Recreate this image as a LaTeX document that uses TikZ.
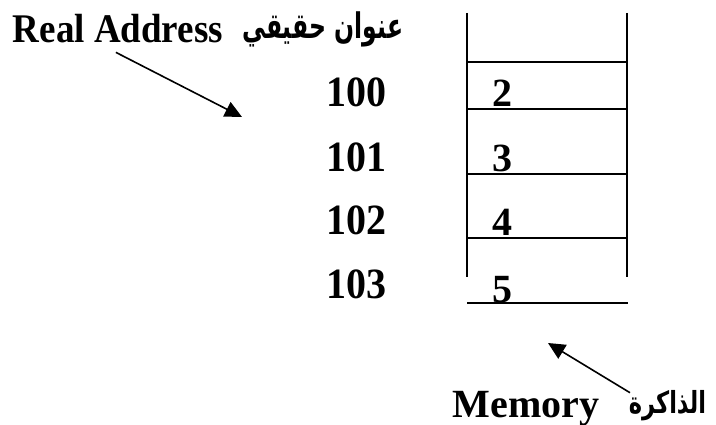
\documentclass[tikz,border=0pt]{standalone}
\usepackage{fontspec}
\setmainfont{Liberation Serif}
\newfontfamily\arabicfont[Script=Arabic]{DejaVu Sans}
\TeXXeTstate=1
\usetikzlibrary{arrows.meta}
\tikzset{
  al/.style={inner sep=0pt,anchor=base,font=\fontsize{40}{40}\selectfont\bfseries},
  tl/.style={inner sep=0pt,font=\fontsize{37}{37}\selectfont\bfseries},
  arl/.style={inner sep=0pt,yscale=1.5,font=\fontsize{23.5}{24}\selectfont\arabicfont\bfseries},
  ptr/.style={line width=1.6pt,-{Triangle[length=17pt,width=16pt]}}
}

\begin{document}
\begin{tikzpicture}[x=1pt,y=-1pt,line width=1.8pt]
    \useasboundingbox (0,0) rectangle (716,425);
    % memory column
    \draw (467,13) -- (467,277) (627,13) -- (627,277);
    \draw (467,62) -- (627,62) (467,109) -- (627,109) (467,174) -- (627,174) (467,238) -- (627,238);
    \draw (467,303) -- (628,303);
    % addresses and contents
    \node[al,yscale=1.08] (a100) at (356,107) {100};
    \node[al,yscale=1.08] (a101) at (356,172) {101};
    \node[al,yscale=1.08] (a102) at (356,235) {102};
    \node[al,yscale=1.08] (a103) at (356,299) {103};
    \node[al] (v2) at (502,107) {2};
    \node[al] (v3) at (502,172) {3};
    \node[al] (v4) at (502,236) {4};
    \node[al] (v5) at (502,302) {5};
    % labels with their pointers
    \node[tl,anchor=base west,yscale=1.1] (real) at (12,43) {Real Address};
    \node[arl,anchor=base east] (realar) at (404,39) {\beginR عنوان حقيقي\endR};
    \node[tl,anchor=base west,font=\fontsize{40}{40}\selectfont\bfseries] (mem) at (452,417) {Memory};
    \node[arl,anchor=base west,yscale=0.9,font=\fontsize{22.5}{24}\selectfont\arabicfont\bfseries] (memar) at (628,413) {\beginR الذاكرة\endR};
    \coordinate (rtip) at (242,117);
    \coordinate (mtip) at (548,343);
    \draw[ptr] ([shift={(-2,8)}]real.south) -- (rtip);
    \draw[ptr] ([shift={(2,4)}]memar.north west) -- (mtip);
\end{tikzpicture}
\end{document}
